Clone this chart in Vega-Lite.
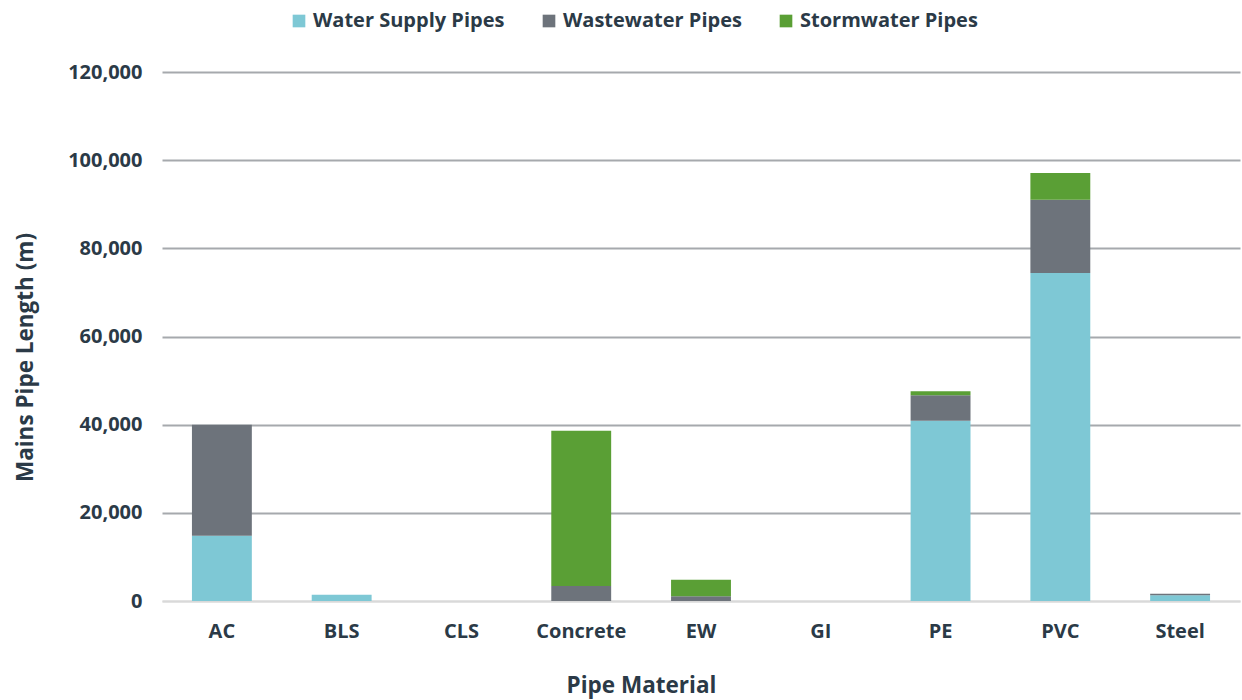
{
  "$schema": "https://vega.github.io/schema/vega-lite/v6.json",
  "width": 1078,
  "height": 529,
  "padding": {"left": 162, "top": 72, "right": 2, "bottom": 99},
  "autosize": {"type": "none"},
  "background": "white",
  "data": {
    "values": [
      {"material": "AC", "type": "Water Supply Pipes", "k": 0, "length": 14800},
      {"material": "AC", "type": "Wastewater Pipes", "k": 1, "length": 25200},
      {"material": "AC", "type": "Stormwater Pipes", "k": 2, "length": 0},
      {"material": "BLS", "type": "Water Supply Pipes", "k": 0, "length": 1400},
      {"material": "BLS", "type": "Wastewater Pipes", "k": 1, "length": 0},
      {"material": "BLS", "type": "Stormwater Pipes", "k": 2, "length": 0},
      {"material": "CLS", "type": "Water Supply Pipes", "k": 0, "length": 0},
      {"material": "CLS", "type": "Wastewater Pipes", "k": 1, "length": 0},
      {"material": "CLS", "type": "Stormwater Pipes", "k": 2, "length": 0},
      {"material": "Concrete", "type": "Water Supply Pipes", "k": 0, "length": 0},
      {"material": "Concrete", "type": "Wastewater Pipes", "k": 1, "length": 3400},
      {"material": "Concrete", "type": "Stormwater Pipes", "k": 2, "length": 35200},
      {"material": "EW", "type": "Water Supply Pipes", "k": 0, "length": 0},
      {"material": "EW", "type": "Wastewater Pipes", "k": 1, "length": 1100},
      {"material": "EW", "type": "Stormwater Pipes", "k": 2, "length": 3700},
      {"material": "GI", "type": "Water Supply Pipes", "k": 0, "length": 0},
      {"material": "GI", "type": "Wastewater Pipes", "k": 1, "length": 0},
      {"material": "GI", "type": "Stormwater Pipes", "k": 2, "length": 0},
      {"material": "PE", "type": "Water Supply Pipes", "k": 0, "length": 40900},
      {"material": "PE", "type": "Wastewater Pipes", "k": 1, "length": 5800},
      {"material": "PE", "type": "Stormwater Pipes", "k": 2, "length": 900},
      {"material": "PVC", "type": "Water Supply Pipes", "k": 0, "length": 74400},
      {"material": "PVC", "type": "Wastewater Pipes", "k": 1, "length": 16600},
      {"material": "PVC", "type": "Stormwater Pipes", "k": 2, "length": 6100},
      {"material": "Steel", "type": "Water Supply Pipes", "k": 0, "length": 1300},
      {"material": "Steel", "type": "Wastewater Pipes", "k": 1, "length": 350},
      {"material": "Steel", "type": "Stormwater Pipes", "k": 2, "length": 0}
    ]
  },
  "mark": {"type": "bar"},
  "encoding": {
    "x": {
      "field": "material",
      "type": "nominal",
      "sort": null,
      "scale": {"paddingInner": 0.5, "paddingOuter": 0.25},
      "axis": {
        "title": "Pipe Material",
        "labelAngle": 0,
        "labelPadding": 20,
        "ticks": false,
        "domainColor": "#d9d9d9",
        "domainWidth": 2,
        "titlePadding": 33,
        "titleX": 479,
        "titleAlign": "center",
        "titleAnchor": null
      }
    },
    "y": {
      "field": "length",
      "type": "quantitative",
      "stack": "zero",
      "scale": {"domain": [0, 120000], "nice": false},
      "axis": {
        "title": "Mains Pipe Length (m)",
        "values": [0, 20000, 40000, 60000, 80000, 100000, 120000],
        "format": ",.0f",
        "domain": false,
        "ticks": false,
        "labelPadding": 20,
        "gridColor": {"condition": {"test": "datum.value === 0", "value": "#d9d9d9"}, "value": "#a6a9ad"},
        "gridWidth": 2,
        "titleX": -137,
        "titleY": 285,
        "titleAlign": "center",
        "titleBaseline": "middle"
      }
    },
    "color": {
      "field": "type",
      "type": "nominal",
      "sort": ["Water Supply Pipes", "Wastewater Pipes", "Stormwater Pipes"],
      "scale": {
        "domain": ["Water Supply Pipes", "Wastewater Pipes", "Stormwater Pipes"],
        "range": ["#7ec8d5", "#6d737b", "#5a9f35"]
      },
      "legend": {
        "title": null,
        "orient": "none",
        "direction": "horizontal",
        "legendX": 127,
        "legendY": -61,
        "symbolType": "square",
        "symbolSize": 160,
        "symbolStrokeWidth": 0,
        "columnPadding": 34,
        "labelOffset": 4
      }
    },
    "order": {"field": "k", "type": "quantitative"}
  },
  "config": {
    "view": {"stroke": null},
    "axis": {
      "labelFont": "Open Sans",
      "titleFont": "Open Sans",
      "labelFontSize": 20,
      "titleFontSize": 22.5,
      "labelFontWeight": "bold",
      "titleFontWeight": "bold",
      "labelColor": "#2b3a47",
      "titleColor": "#2b3a47"
    },
    "legend": {
      "labelFont": "Open Sans",
      "labelFontSize": 20,
      "labelFontWeight": "bold",
      "labelColor": "#2b3a47",
      "labelLimit": 300
    }
  }
}
